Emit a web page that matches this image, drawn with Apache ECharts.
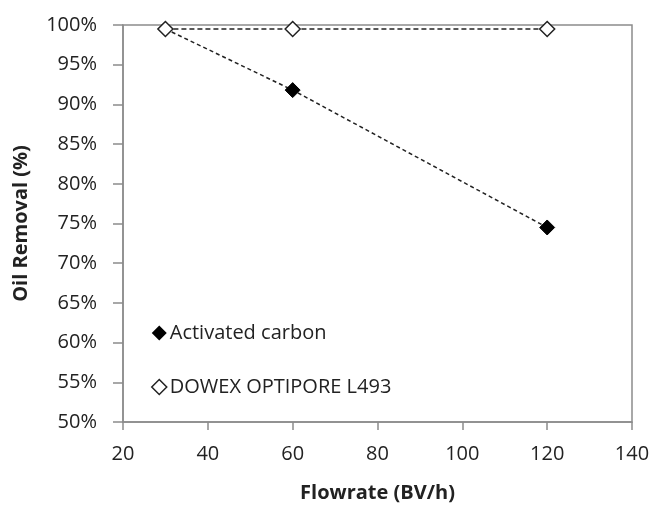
<!DOCTYPE html>
<html><head><meta charset="utf-8">
<script src="https://cdn.jsdelivr.net/npm/echarts@6/dist/echarts.min.js"></script>
<style>html,body{margin:0;padding:0;background:#fff}#c{width:653px;height:508px}</style>
</head><body><div id="c"></div>
<script>
const flowrate = [30, 60, 120];
const activatedCarbon = [99.5, 91.8, 74.5];
const dowex = [99.5, 99.5, 99.5];
const seriesNames = ['Activated carbon', 'DOWEX OPTIPORE L493'];

const chart = echarts.init(document.getElementById('c'));
const font = 'Open Sans, Liberation Sans, sans-serif';
chart.setOption({
  animation: false,
  grid: {left: 123, right: 21, top: 25, bottom: 81, show: true, borderColor: '#8c8c8c', borderWidth: 1.5},
  legend: {
    orient: 'vertical', left: 146, top: 318, itemGap: 34, itemWidth: 15, itemHeight: 15,
    textStyle: {fontFamily: font, fontSize: 20, color: '#222', padding: [0, 0, 0, -2]},
    data: [
      {name: seriesNames[0], icon: 'diamond', itemStyle: {color: '#000', borderWidth: 0}},
      {name: seriesNames[1], icon: 'diamond', itemStyle: {color: '#fff', borderColor: '#222', borderWidth: 1.5}}
    ]
  },
  xAxis: {
    type: 'value', min: 20, max: 140, interval: 20,
    name: 'Flowrate (BV/h)', nameLocation: 'middle', nameGap: 61,
    nameTextStyle: {fontFamily: font, fontSize: 20, fontWeight: 'bold', color: '#222'},
    axisLine: {show: true, lineStyle: {color: '#8c8c8c', width: 1.5}},
    axisTick: {show: true, inside: false, length: 8, lineStyle: {color: '#8c8c8c', width: 1.5}},
    axisLabel: {fontFamily: font, fontSize: 20, color: '#222', margin: 22},
    splitLine: {show: false}
  },
  yAxis: {
    type: 'value', min: 50, max: 100, interval: 5,
    name: 'Oil Removal (%)', nameLocation: 'middle', nameGap: 92, nameRotate: 90,
    nameTextStyle: {fontFamily: font, fontSize: 20, fontWeight: 'bold', color: '#222'},
    axisLine: {show: true, lineStyle: {color: '#8c8c8c', width: 1.5}},
    axisTick: {show: true, inside: false, length: 10, lineStyle: {color: '#8c8c8c', width: 1.5}},
    axisLabel: {fontFamily: font, fontSize: 20, color: '#222', margin: 26, formatter: v => v + '%'},
    splitLine: {show: false}
  },
  series: [
    {
      name: seriesNames[0], type: 'line', data: flowrate.map((x, i) => [x, activatedCarbon[i]]),
      symbol: 'diamond', symbolSize: 15,
      itemStyle: {color: '#000', borderColor: '#000'},
      lineStyle: {color: '#222', width: 1.5, type: [4, 3]}
    },
    {
      name: seriesNames[1], type: 'line', data: flowrate.map((x, i) => [x, dowex[i]]),
      symbol: 'diamond', symbolSize: 15,
      itemStyle: {color: '#fff', borderColor: '#222', borderWidth: 1.5},
      lineStyle: {color: '#222', width: 1.5, type: [5, 3]}
    }
  ]
});
</script></body></html>
